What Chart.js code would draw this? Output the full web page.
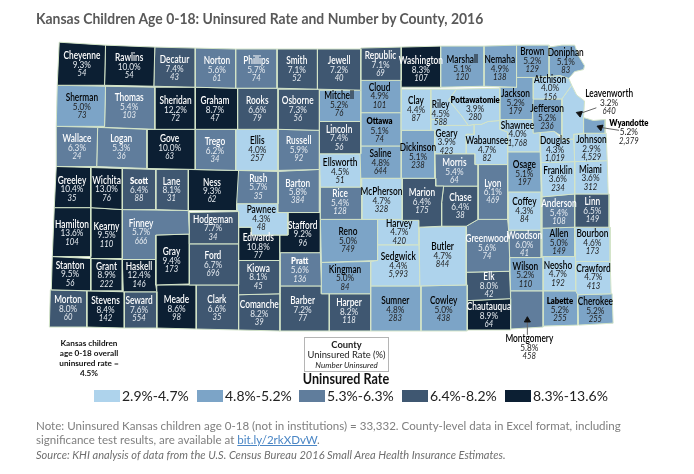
<!DOCTYPE html>
<html>
<head>
<meta charset="utf-8">
<script src="https://cdn.jsdelivr.net/npm/chart.js@4/dist/chart.umd.min.js"></script>
<style>
  html, body { margin: 0; background: #fff; font-family: Lato, sans-serif; }
  #page { position: relative; width: 694px; height: 474px; overflow: hidden; }
  #map { position: absolute; left: 0; top: 0; }
  .t { position: absolute; white-space: nowrap; transform-origin: left top; }
  #title { left: 36px; top: 10px; font-size: 14.6px; font-weight: 700; color: #595959; transform: scaleX(.955); }
  .swatch { position: absolute; top: 390px; width: 26px; height: 12px; }
  .range { top: 387px; font-size: 14px; color: #222; }
  #note { left: 36px; top: 419px; font-size: 12.2px; line-height: 13.5px; color: #7f7f7f; transform: scaleX(.948); }
  #note a { color: #4a86c5; text-decoration: underline; text-decoration-thickness: 1px; }
  #source { left: 36px; top: 447px; font-size: 11.8px; font-style: italic; color: #6f6f6f; transform: scaleX(.937); }
  #overall { left: 44px; top: 338px; width: 90px; text-align: center; font-size: 8.2px; line-height: 10px; font-weight: 700; color: #111; }
  #key { left: 304px; top: 337px; width: 83px; height: 33px; border: 1px solid #b5b5b5; text-align: center; color: #222; }
  #key div { font-size: 9.4px; line-height: 10px; }
  #keyTitle { left: 346px; top: 370px; font-size: 14.4px; font-weight: 700; color: #111; transform: translateX(-50%) scaleX(.875); transform-origin: center top; }
</style>
</head>
<body>
<div id="page">
  <canvas id="map" width="694" height="474"></canvas>
  <div class="t" id="title">Kansas Children Age 0-18: Uninsured Rate and Number by County, 2016</div>
  <div class="t" id="overall">Kansas children<br>age 0-18 overall<br>uninsured rate =<br>4.5%</div>
  <div class="t" id="key">
    <div style="font-weight:700;margin-top:2px">County</div>
    <div>Uninsured Rate (%)</div>
    <div style="font-style:italic;font-size:8px">Number Uninsured</div>
  </div>
  <div class="t" id="keyTitle">Uninsured Rate</div>
  <div id="legend"></div>
  <div class="t" id="note">Note: Uninsured Kansas children age 0-18 (not in institutions) = 33,332. County-level data in Excel format, including<br>significance test results, are available at <a>bit.ly/2rkXDvW</a>.</div>
  <div class="t" id="source">Source: KHI analysis of data from the U.S. Census Bureau 2016 Small Area Health Insurance Estimates.</div>
</div>
<script>
const countyNames = [
  'Cheyenne','Rawlins','Decatur','Norton','Phillips','Smith','Jewell','Republic','Washington','Marshall','Nemaha','Brown','Doniphan',
  'Sherman','Thomas','Sheridan','Graham','Rooks','Osborne','Mitchell','Cloud','Clay','Riley','Pottawatomie','Jackson','Atchison','Jefferson','Leavenworth','Wyandotte',
  'Wallace','Logan','Gove','Trego','Ellis','Russell','Lincoln','Ottawa','Saline','Dickinson','Geary','Wabaunsee','Shawnee','Douglas','Johnson',
  'Greeley','Wichita','Scott','Lane','Ness','Rush','Barton','Ellsworth','Rice','McPherson','Marion','Morris','Chase','Lyon','Osage','Franklin','Miami',
  'Hamilton','Kearny','Finney','Hodgeman','Pawnee','Stafford','Reno','Harvey','Butler','Greenwood','Coffey','Anderson','Linn',
  'Stanton','Grant','Haskell','Gray','Ford','Edwards','Kiowa','Pratt','Kingman','Sedgwick','Woodson','Allen','Bourbon','Wilson','Neosho','Crawford',
  'Morton','Stevens','Seward','Meade','Clark','Comanche','Barber','Harper','Sumner','Cowley','Elk','Chautauqua','Montgomery','Labette','Cherokee'
];
const uninsuredRates = [
  9.3,10.0,7.4,5.6,5.7,7.1,7.2,7.1,8.3,5.1,4.9,5.2,5.1,
  5.0,5.4,12.2,8.7,6.6,7.3,5.2,4.9,4.4,4.5,3.9,5.2,4.0,5.2,3.2,5.2,
  6.3,5.3,10.0,6.2,4.0,5.9,7.4,5.1,4.8,5.1,3.9,4.7,4.0,4.3,2.9,
  10.4,13.0,6.4,8.1,9.3,5.7,5.8,4.5,5.4,4.7,6.4,5.4,6.4,6.1,5.1,3.6,3.6,
  13.6,9.5,5.7,7.7,4.3,9.2,5.0,4.7,4.7,5.6,4.3,5.4,6.5,
  9.5,8.9,12.4,9.4,6.7,10.8,8.1,5.6,5.0,4.4,6.0,5.0,4.6,5.2,4.7,4.7,
  8.0,8.4,7.6,8.6,6.6,8.2,7.2,8.2,4.8,5.0,8.0,8.9,5.8,5.2,5.2
];
const uninsuredCounts = [
  54,54,43,61,74,52,40,69,107,120,138,129,83,
  73,103,72,47,79,56,76,101,87,588,280,179,156,236,640,2379,
  24,36,63,34,257,92,56,74,644,238,423,82,1768,1019,4529,
  35,76,88,31,62,35,384,51,128,328,175,64,38,469,197,234,312,
  104,110,666,34,48,96,749,420,844,74,84,108,149,
  56,222,146,173,696,77,45,136,84,5993,41,149,173,110,192,413,
  60,142,554,98,35,39,77,118,283,438,42,64,458,255,255
];

// legend classes
const rateClassMax = [4.7, 5.2, 6.3, 8.2, 13.6];
const rateClassLabels = ['2.9%-4.7%','4.8%-5.2%','5.3%-6.3%','6.4%-8.2%','8.3%-13.6%'];
const rateClassColors = ['#aed3ec','#7ca4c7','#607d9c','#3f5771','#0c1f33'];
const legendLeft = [94, 197, 299, 402, 505];

// county outlines, x,y pairs on the map's scale (same order as countyNames)
const countyOutlines = [
  [55,38,102,41,101,82,53,82],[102,41,152,43,151,83,101,82],[152,43,193,44,193,84,151,83],[193,44,234,45,234,85,193,84],
  [234,45,276,45,276,85,234,85],[276,45,317,45,317,86,276,85],[317,45,361,45,361,87,317,86],[361,44,402,43,402,77,360,77],
  [402,43,442,42,442,84,402,84],[442,42,486,42,486,83,442,84],[486,42,519,41,519,84,486,83],[519,41,552,41,552,73,536,74,519,74],
  [552,43,565,41,578,41,582,52,588,62,587,66,578,68,572,75,563,72,552,73],
  [53,82,102,83,101,124,52,124],[102,83,152,84,152,127,101,125],[152,84,193,84,193,127,144,127,152,127],[193,84,236,85,236,127,193,127],
  [236,85,277,85,277,127,234,127],[277,86,319,86,319,128,277,127],[319,87,361,87,361,119,319,119],[360,77,402,77,402,110,360,110],
  [402,86,432,86,432,128,402,128],[432,86,458,86,450,97,463,113,470,123,441,123,441,117,432,117],
  [458,86,502,85,502,118,490,119,483,122,476,122,470,123,463,113,450,97],[502,84,519,84,519,74,536,74,536,96,535,117,502,117],
  [536,74,552,73,563,72,572,75,575,82,565,96,535,96],[535,96,565,96,565,134,557,129,536,131],
  [565,96,575,82,580,92,588,98,587,115,587,131,577,132,577,137,565,137],[587,115,597,118,609,117,609,131,587,131],
  [52,124,94,125,93,165,52,165],[94,125,144,127,144,167,93,165],[144,127,193,127,193,168,144,167],[193,127,234,127,234,169,193,168],
  [234,127,277,127,277,169,234,169],[277,127,319,128,319,168,277,169],[319,119,361,119,361,152,319,152],[360,110,402,110,402,144,360,144],
  [360,144,402,144,402,177,361,177],[402,128,436,128,436,177,402,177],
  [432,117,441,117,441,123,470,123,476,122,476,132,468,132,468,152,436,152,436,128,432,128],
  [476,122,483,122,490,119,502,118,502,127,510,130,510,163,477,163,477,152,468,152,468,132,476,132],
  [502,117,535,117,536,131,543,130,543,150,510,150,510,130,502,127],
  [543,130,557,129,565,137,577,137,578,160,544,161],[577,132,610,131,611,159,578,160],
  [52,165,87,166,87,207,50,207],[87,166,119,167,119,209,87,207],[119,167,153,168,153,209,119,209],[153,168,186,168,186,210,153,209],
  [186,168,237,169,235,203,235,210,186,210],[234,169,277,170,277,203,235,203],[277,170,319,168,319,212,277,212],
  [319,152,361,152,361,186,320,186],[320,186,362,186,362,219,320,219],[362,177,403,177,403,219,362,219],
  [403,177,437,177,437,185,445,185,443,202,443,226,420,227,420,220,403,220],
  [436,152,468,152,477,152,477,163,480,163,480,185,437,185],[445,185,480,185,480,219,468,226,443,226,443,202],
  [480,163,510,163,510,219,480,219],[510,150,543,150,544,191,510,191],[544,161,578,160,578,193,545,196],[578,160,611,159,612,193,578,193],
  [50,207,87,207,87,257,48,257],[87,207,119,209,119,259,87,259],[119,209,186,210,187,234,153,235,153,260,119,260],
  [187,212,237,211,237,244,187,244],[235,203,277,203,277,212,287,212,287,235,250,235,250,227,237,227],
  [287,212,320,212,320,253,279,253,279,235,287,235],[320,219,378,219,378,261,321,263],[378,219,420,219,420,245,378,245],
  [420,227,468,226,468,286,421,287],[468,226,480,219,510,219,511,230,512,258,512,272,468,273],
  [511,191,544,191,544,230,511,230],[545,196,578,193,578,227,545,228],[578,193,613,193,613,227,578,227],
  [48,257,87,259,87,292,47,291],[87,259,119,260,119,292,87,292],[119,260,153,260,153,286,154,293,120,293],[153,235,187,234,187,285,153,286],
  [187,244,237,244,237,286,187,286],[237,227,250,227,250,235,279,235,279,261,237,261],[237,261,279,261,279,295,237,296],
  [279,253,320,253,321,287,279,287],[321,263,371,262,371,295,321,295],[378,245,420,245,421,287,371,287,371,262,378,261],
  [511,230,544,230,544,258,512,258],[545,228,578,227,578,257,545,257],[578,227,614,227,614,262,579,262],
  [512,258,546,258,546,292,513,292],[545,257,579,257,579,292,546,292],[579,262,614,262,615,295,581,296,579,292],
  [46,291,83,292,83,329,45,329],[83,292,121,293,121,330,83,329],[121,293,154,293,154,330,121,330],[154,286,194,286,194,331,154,330],
  [194,286,237,286,237,332,194,331],[237,296,279,295,279,333,237,332],[279,287,321,287,321,295,329,295,329,333,278,333],
  [329,295,371,295,371,333,329,333],[371,287,422,287,422,333,371,333],[422,287,469,286,469,333,422,333],
  [468,273,512,272,513,300,469,302],[469,302,513,300,513,332,469,332],[513,292,546,292,546,329,513,331],
  [546,292,581,292,581,327,546,328],[581,296,616,295,617,325,582,327]
];

// where each county's name sits (same order again)
const labelAnchors = [
  [78,52],[126,54],[172,56],[215,57],[255,57],[296,57],[339,57],[381,52],[422,57],[464,56],[502,56],[535,48],[569,49],
  [78,95],[126,95],[173,98],[213,98],[256,98],[297,98],[339,93],[380,84],[417,98],[442,102],[477,97],[518,91],[553,76],[550,106],[613,91],[633,121],
  [73,137],[118,137],[167,137],[213,140],[256,139],[298,139],[339,127],[380,119],[381,152],[419,146],[448,131],[489,139],[520,123],[558,139],[595,138],
  [68,179],[103,179],[136,180],[169,180],[210,181],[257,177],[297,182],[340,161],[340,193],[382,191],[423,192],[456,161],[462,197],[495,182],[527,163],[561,169],[594,168],
  [68,224],[103,226],[138,223],[211,219],[260,209],[302,225],[348,232],[400,223],[444,247],[489,239],[527,201],[562,203],[596,201],
  [66,266],[103,267],[136,267],[169,252],[211,256],[257,238],[257,269],[299,262],[345,270],[399,257],[527,236],[562,234],[596,234],[528,267],[561,266],[597,269],
  [64,301],[102,302],[136,302],[174,301],[215,301],[258,306],[302,302],[349,304],[396,302],[445,302],[491,278],[491,308],[532,341],[563,302],[599,303]
];

// names set in the smaller heavy type on the original
const smallBoldNames = ['Pottawatomie','Wyandotte','Ottawa','Scott','Pratt','Labette'];

// leader arrows for the counties labelled outside their shape: from, to
const leaderLines = [[[600,105],[583,111]],[[623,128],[604,125]],[[530,337],[530,322]]];

function rateClass(rate) {
  return rateClassMax.findIndex(max => rate <= max);
}

function toPoints(flat) {
  const pts = [];
  for (let i = 0; i < flat.length; i += 2) pts.push({ x: flat[i], y: flat[i + 1] });
  pts.push({ x: flat[0], y: flat[1] });
  return pts;
}

// fillText squeezed to a share of its natural width, the original type is narrow
function narrowText(ctx, text, px, py, squeeze) {
  ctx.fillText(text, px, py, ctx.measureText(text).width * squeeze);
}

// county texts, drawn after the shapes
const countyLabels = {
  id: 'countyLabels',
  afterDatasetsDraw(chart) {
    const { ctx, scales: { x, y } } = chart;
    ctx.save();
    ctx.textAlign = 'center';
    ctx.textBaseline = 'middle';
    countyNames.forEach((name, i) => {
      const px = x.getPixelForValue(labelAnchors[i][0]);
      const py = y.getPixelForValue(labelAnchors[i][1]);
      const dark = rateClass(uninsuredRates[i]) >= 2 && name !== 'Montgomery';
      const small = smallBoldNames.includes(name);
      ctx.fillStyle = dark ? '#fff' : '#000';
      ctx.font = small ? '800 9px Lato' : '600 10.4px Lato';
      narrowText(ctx, name, px, py, small ? 0.86 : 0.8);
      ctx.fillStyle = dark ? '#e6ebf0' : '#222';
      ctx.font = '9.4px Lato';
      narrowText(ctx, uninsuredRates[i].toFixed(1) + '%', px, py + 9, 0.88);
      ctx.font = 'italic 8.6px Lato';
      narrowText(ctx, uninsuredCounts[i].toLocaleString('en-US'), px, py + 17.5, 0.9);
    });
    ctx.restore();
  }
};

const shapeSets = countyNames.map((name, i) => ({
  label: name,
  data: toPoints(countyOutlines[i]),
  showLine: true,
  fill: 'shape',
  tension: 0,
  pointRadius: 0,
  backgroundColor: rateClassColors[rateClass(uninsuredRates[i])],
  borderColor: '#d3e4c8',
  borderWidth: 1
}));

const arrowSets = leaderLines.map(line => ({
  label: 'leader',
  data: line.map(p => ({ x: p[0], y: p[1] })),
  showLine: true,
  tension: 0,
  borderColor: '#666',
  borderWidth: 1,
  pointRadius: [0, 3.5],
  pointStyle: 'triangle',
  pointRotation: line[0][0] === line[1][0] ? 0 : (line[0][0] > line[1][0] ? -70 : 70),
  pointBackgroundColor: '#111',
  pointBorderColor: '#111'
}));

new Chart(document.getElementById('map'), {
  type: 'scatter',
  data: { datasets: [...arrowSets, ...shapeSets] },
  plugins: [countyLabels],
  options: {
    responsive: false,
    animation: false,
    events: [],
    layout: { padding: 0 },
    plugins: { legend: { display: false }, title: { display: false }, tooltip: { enabled: false } },
    scales: {
      x: { type: 'linear', display: false, min: 0, max: 694 },
      y: { type: 'linear', display: false, min: 0, max: 474, reverse: true }
    }
  }
});

const legendBox = document.getElementById('legend');
rateClassLabels.forEach((label, i) => {
  const sw = document.createElement('div');
  sw.className = 'swatch';
  sw.style.left = legendLeft[i] + 'px';
  sw.style.background = rateClassColors[i];
  legendBox.appendChild(sw);
  const tx = document.createElement('div');
  tx.className = 't range';
  tx.style.left = (legendLeft[i] + 28) + 'px';
  tx.textContent = label;
  legendBox.appendChild(tx);
});
</script>
</body>
</html>
